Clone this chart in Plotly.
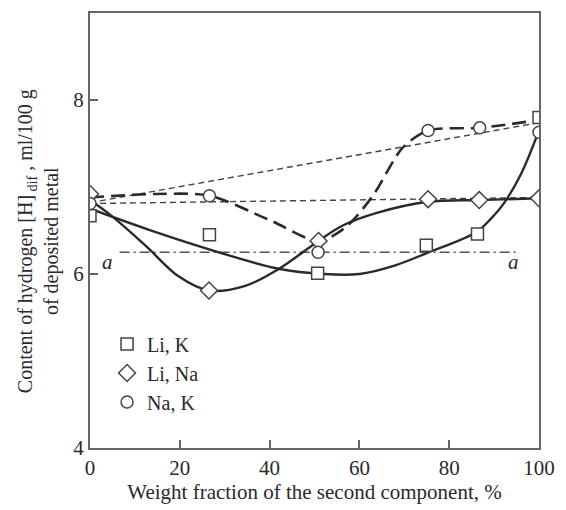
import plotly.graph_objects as go

# ---- measured points (markers) ----
lik_x = [0, 26.6, 50.7, 74.9, 86.3, 100]
lik_y = [6.67, 6.45, 6.01, 6.33, 6.46, 7.80]

lina_x = [0, 26.5, 50.9, 75.3, 86.7, 100]
lina_y = [6.92, 5.81, 6.38, 6.86, 6.85, 6.87]

nak_x = [0, 26.6, 50.8, 75.3, 86.8, 100]
nak_y = [6.81, 6.90, 6.25, 7.65, 7.68, 7.63]

# ---- drawn curves ----
curve_lik_x = [0, 13, 28, 42, 52, 60, 68, 75, 86, 89, 92, 96, 100]
curve_lik_y = [6.75, 6.51, 6.26, 6.06, 6.0, 6.0, 6.1, 6.24, 6.48, 6.62, 6.8, 7.15, 7.65]

curve_lina_x = [0, 5, 12.5, 19.8, 26.5, 34.4, 41.8, 50.9, 56.4, 63.7, 75.3, 86.7, 100]
curve_lina_y = [6.85, 6.66, 6.32, 5.97, 5.81, 5.86, 6.05, 6.38, 6.56, 6.70, 6.83, 6.85, 6.87]

curve_nak_x = [0, 15, 26.6, 40, 50.9, 57, 63, 69.6, 75.3, 86.8, 100]
curve_nak_y = [6.88, 6.92, 6.90, 6.62, 6.38, 6.54, 6.9, 7.45, 7.65, 7.68, 7.77]

thin1_x = [0, 100]
thin1_y = [6.82, 7.74]
thin2_x = [0, 100]
thin2_y = [6.81, 6.88]
dashdot_x = [6.6, 94.9]
dashdot_y = [6.25, 6.25]

x_ticks = [0, 20, 40, 60, 80, 100]
y_ticks = [4, 6, 8]

FONT = "Liberation Serif"
INK = "#2a2a2a"

fig = go.Figure()

# reference lines
fig.add_trace(go.Scatter(x=thin1_x, y=thin1_y, mode="lines", showlegend=False,
                         line=dict(color="#444", width=1.4, dash="6px,4px")))
fig.add_trace(go.Scatter(x=thin2_x, y=thin2_y, mode="lines", showlegend=False,
                         line=dict(color="#444", width=1.4, dash="6px,4px")))
fig.add_trace(go.Scatter(x=dashdot_x, y=dashdot_y, mode="lines", showlegend=False,
                         line=dict(color="#555", width=1.3, dash="10px,4px,2px,4px")))

# curves
fig.add_trace(go.Scatter(x=curve_lik_x, y=curve_lik_y, mode="lines", showlegend=False,
                         line=dict(color=INK, width=2.4, shape="spline", smoothing=1.0)))
fig.add_trace(go.Scatter(x=curve_lina_x, y=curve_lina_y, mode="lines", showlegend=False,
                         line=dict(color=INK, width=2.4, shape="spline", smoothing=1.0)))
fig.add_trace(go.Scatter(x=curve_nak_x, y=curve_nak_y, mode="lines", showlegend=False,
                         line=dict(color=INK, width=2.6, shape="spline", smoothing=0.8,
                                   dash="14px,7px")))

mk = dict(color="white", size=12, line=dict(color="#444", width=1.5))
fig.add_trace(go.Scatter(x=lik_x, y=lik_y, mode="markers", name="Li, K",
                         marker=dict(mk, symbol="square")))
fig.add_trace(go.Scatter(x=lina_x, y=lina_y, mode="markers", name="Li, Na",
                         marker=dict(mk, symbol="diamond", size=13)))
fig.add_trace(go.Scatter(x=nak_x, y=nak_y, mode="markers", name="Na, K",
                         marker=dict(mk, symbol="circle")))

fig.add_annotation(x=4, y=6.14, text="<i>a</i>", showarrow=False,
                   font=dict(family=FONT, size=21, color=INK))
fig.add_annotation(x=94.3, y=6.14, text="<i>a</i>", showarrow=False,
                   font=dict(family=FONT, size=21, color=INK))

fig.add_annotation(xref="paper", yref="paper", x=-0.113, y=0.476,
                   text="Content of hydrogen [H]<sub> dif</sub> , ml/100 g<br>of deposited metal",
                   textangle=-90, showarrow=False, xanchor="center", yanchor="middle",
                   font=dict(family=FONT, size=20, color=INK))

axis_common = dict(showline=True, linecolor="#666", linewidth=2, mirror=True,
                   ticks="inside", ticklen=8, tickcolor="#666", tickwidth=1.5,
                   showgrid=False, zeroline=False,
                   tickfont=dict(family=FONT, size=21, color=INK))

fig.update_layout(
    width=566, height=510,
    margin=dict(l=90, r=21, t=11, b=60),
    paper_bgcolor="white", plot_bgcolor="white",
    xaxis=dict(axis_common, range=[0, 100], tickvals=x_ticks,
               title=dict(text="Weight fraction of the second component, %",
                          font=dict(family=FONT, size=21, color=INK), standoff=4)),
    yaxis=dict(axis_common, range=[4, 9], tickvals=y_ticks),
    legend=dict(x=0.038, y=0.284, xanchor="left", yanchor="top",
                bgcolor="rgba(0,0,0,0)", tracegroupgap=0,
                font=dict(family=FONT, size=20, color=INK)),
)

fig.write_html("out.html")
